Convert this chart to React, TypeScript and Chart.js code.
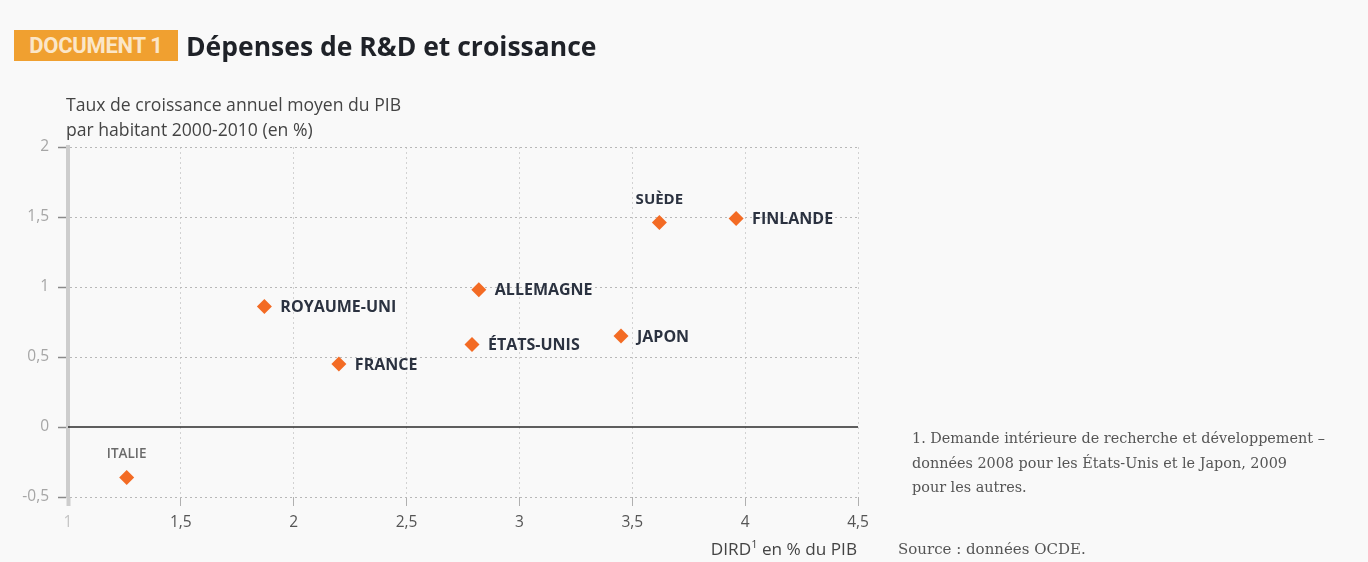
import React, { useEffect, useRef } from "react";
import { Chart, registerables } from "chart.js";

Chart.register(...registerables);

// ---- Data ----
const countries = ["ITALIE", "ROYAUME-UNI", "FRANCE", "ÉTATS-UNIS", "ALLEMAGNE", "JAPON", "SUÈDE", "FINLANDE"];
const dirdValues = [1.26, 1.87, 2.2, 2.79, 2.82, 3.45, 3.62, 3.96];
const growthValues = [-0.36, 0.86, 0.45, 0.59, 0.98, 0.65, 1.46, 1.49];
const labelPlacement = ["top", "right", "right", "right", "right", "right", "top", "right"];
const xTicks = [1, 1.5, 2, 2.5, 3, 3.5, 4, 4.5];
const xTickLabels = ["1", "1,5", "2", "2,5", "3", "3,5", "4", "4,5"];
const yTicks = [-0.5, 0, 0.5, 1, 1.5, 2];
const yTickLabels = ["-0,5", "0", "0,5", "1", "1,5", "2"];
const zeroLine = [
  { x: 1, y: 0 },
  { x: 4.5, y: 0 },
];

const pointLabelPlugin = {
  id: "pointLabels",
  afterDatasetsDraw(chart: any) {
    const ctx = chart.ctx;
    const meta = chart.getDatasetMeta(1);
    ctx.save();
    ctx.textBaseline = "middle";
    meta.data.forEach((el: any, i: number) => {
      const place = labelPlacement[i];
      if (place === "top") {
        const isItaly = countries[i] === "ITALIE";
        ctx.font = isItaly ? '600 13.5px "Open Sans"' : 'bold 15px "Open Sans"';
        ctx.fillStyle = isItaly ? "#6a6a6a" : "#2b3240";
        ctx.textAlign = "center";
        ctx.fillText(countries[i], el.x, el.y - 23);
      } else {
        ctx.font = 'bold 16px "Open Sans"';
        ctx.fillStyle = "#2b3240";
        ctx.textAlign = "left";
        ctx.fillText(countries[i], el.x + 16, el.y + 1);
      }
    });
    ctx.restore();
  },
};

export default function App() {
  const canvasRef = useRef<HTMLCanvasElement | null>(null);

  useEffect(() => {
    const canvas = canvasRef.current;
    if (!canvas) return;
    const chart = new Chart(canvas, {
      type: "scatter",
      data: {
        datasets: [
          {
            type: "line",
            data: zeroLine,
            borderColor: "#2a2a2a",
            borderWidth: 1.5,
            pointRadius: 0,
            order: 2,
          } as any,
          {
            data: dirdValues.map((x, i) => ({ x, y: growthValues[i] })),
            pointStyle: "rectRot",
            pointRadius: 7.5,
            backgroundColor: "#f36b24",
            borderWidth: 0,
            order: 1,
          },
        ],
      },
      options: {
        responsive: false,
        animation: false,
        devicePixelRatio: 1,
        layout: { padding: { left: 0, top: 147, right: 510, bottom: 25 } },
        plugins: {
          legend: { display: false },
          tooltip: { enabled: false },
          title: { display: false },
        },
        scales: {
          x: {
            type: "linear",
            min: 1,
            max: 4.5,
            afterBuildTicks: (s: any) => {
              s.ticks = xTicks.map((v) => ({ value: v }));
            },
            afterFit: (s: any) => {
              s.height = 40;
            },
            ticks: {
              callback: (_v: any, i: number) => xTickLabels[i],
              color: (c: any) => (c.tick && c.tick.value === 1 ? "#c4c4c4" : "#555"),
              font: { family: "Open Sans", size: 15.5 },
              padding: 7,
              maxRotation: 0,
              autoSkip: false,
            },
            grid: {
              color: (c: any) => (c.tick && c.tick.value === 1 ? "transparent" : "#d2d2d2"),
              lineWidth: 1,
              tickLength: 9,
              tickColor: (c: any) => (c.tick && c.tick.value === 1 ? "#cdcdcd" : "#b0b0b0"),
              tickWidth: (c: any) => (c.tick && c.tick.value === 1 ? 4 : 1),
            },
            border: { display: false, dash: [2, 3] },
          },
          y: {
            type: "linear",
            min: -0.5,
            max: 2,
            afterBuildTicks: (s: any) => {
              s.ticks = yTicks.map((v) => ({ value: v }));
            },
            afterFit: (s: any) => {
              s.width = 68;
            },
            ticks: {
              callback: (_v: any, i: number) => yTickLabels[i],
              color: "#a6a6a6",
              font: { family: "Open Sans", size: 15.5 },
              padding: 9,
              autoSkip: false,
            },
            grid: {
              color: (c: any) => (c.tick && c.tick.value === 0 ? "transparent" : "#b8b8b8"),
              lineWidth: 1,
              tickLength: 10,
              tickColor: "#8a8a8a",
              tickWidth: 1.5,
            },
            border: { display: true, color: "#cdcdcd", width: 4, dash: [2, 3] },
          },
        },
      },
      plugins: [pointLabelPlugin],
    });
    return () => chart.destroy();
  }, []);

  const sans = '"Open Sans", "Noto Sans", sans-serif';
  const serif = '"DejaVu Serif", "Liberation Serif", serif';

  return (
    <div
      style={{
        position: "fixed",
        left: 0,
        top: 0,
        width: 1368,
        height: 562,
        background: "#f9f9f9",
        overflow: "hidden",
      }}
    >
      <canvas
        ref={canvasRef}
        width={1368}
        height={562}
        style={{ position: "absolute", left: 0, top: 0, width: 1368, height: 562 }}
      />
      <div
        style={{
          position: "absolute",
          left: 14,
          top: 30,
          width: 164,
          height: 31,
          background: "#f0a030",
          color: "#fbe6c8",
          fontFamily: "Roboto, sans-serif",
          fontWeight: 700,
          fontSize: 22,
          lineHeight: "31px",
          textAlign: "center",
          letterSpacing: -0.3,
        }}
      >
        DOCUMENT 1
      </div>
      <div
        style={{
          position: "absolute",
          left: 186,
          top: 27,
          fontFamily: sans,
          fontWeight: 700,
          fontSize: 26.5,
          lineHeight: "38px",
          color: "#1f2228",
          whiteSpace: "nowrap",
        }}
      >
        Dépenses de R&amp;D et croissance
      </div>
      <div
        style={{
          position: "absolute",
          left: 66,
          top: 92,
          fontFamily: sans,
          fontSize: 17.6,
          lineHeight: "25px",
          color: "#444",
          whiteSpace: "nowrap",
        }}
      >
        Taux de croissance annuel moyen du PIB
        <br />
        par habitant 2000-2010 (en %)
      </div>
      <div
        style={{
          position: "absolute",
          right: 1368 - 857,
          top: 536,
          fontFamily: sans,
          fontSize: 17.2,
          lineHeight: "26px",
          color: "#444",
          whiteSpace: "nowrap",
        }}
      >
        DIRD<sup style={{ fontSize: 11, verticalAlign: "super", lineHeight: 0 }}>1</sup> en % du PIB
      </div>
      <div
        style={{
          position: "absolute",
          left: 912,
          top: 426,
          fontFamily: serif,
          fontSize: 14.4,
          lineHeight: "24.5px",
          color: "#555",
          whiteSpace: "nowrap",
        }}
      >
        1. Demande intérieure de recherche et développement –
        <br />
        données 2008 pour les États-Unis et le Japon, 2009
        <br />
        pour les autres.
      </div>
      <div
        style={{
          position: "absolute",
          left: 898,
          top: 537,
          fontFamily: serif,
          fontSize: 15,
          lineHeight: "24px",
          color: "#555",
          whiteSpace: "nowrap",
        }}
      >
        Source : données OCDE.
      </div>
    </div>
  );
}
